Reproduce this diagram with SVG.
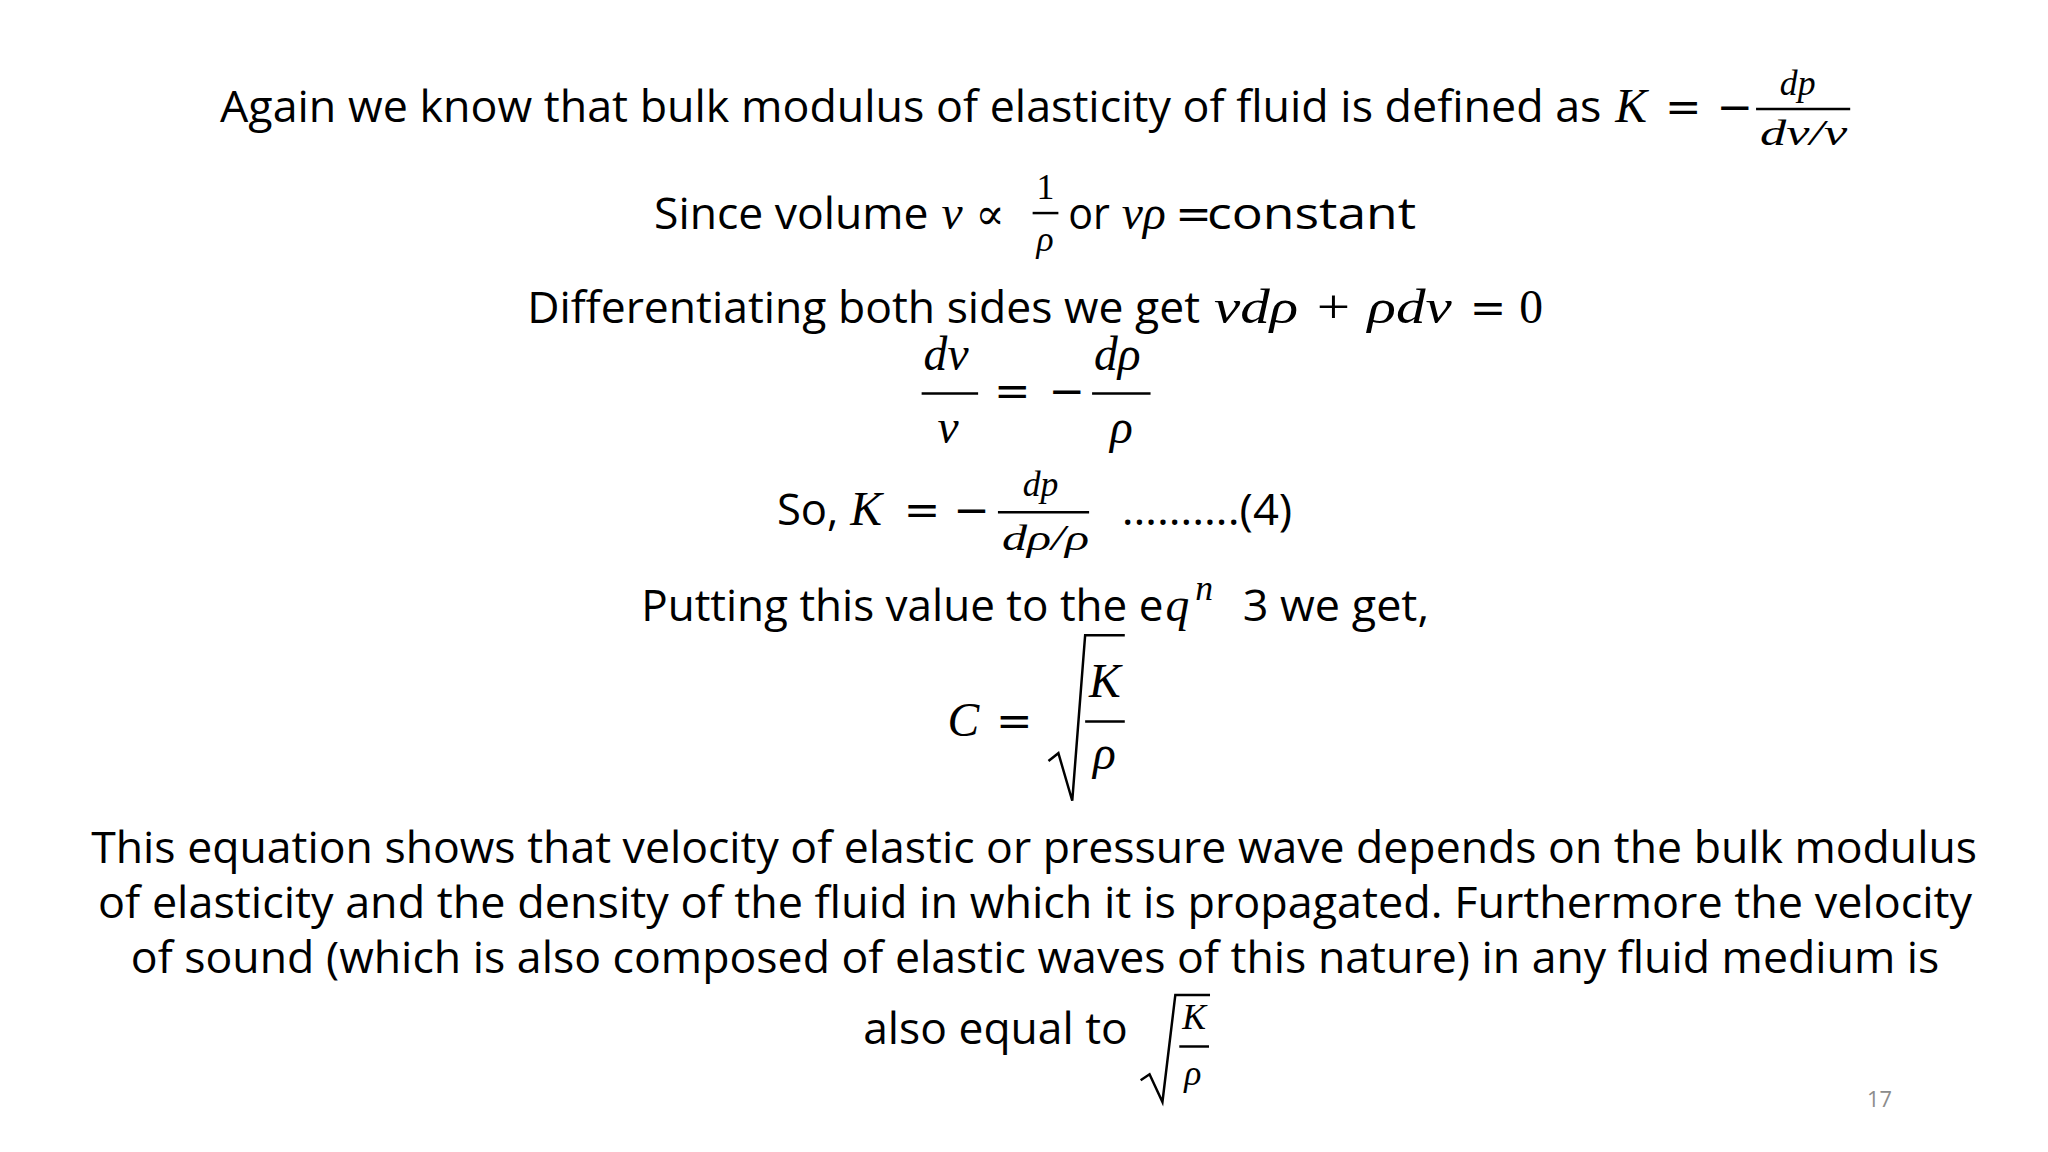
<svg xmlns="http://www.w3.org/2000/svg" width="2048" height="1152" viewBox="0 0 2048 1152">
<style>
.t{font-family:"Open Sans","Noto Sans",sans-serif;font-size:44px;fill:#000}
.m{font-family:"Liberation Serif","DejaVu Serif",serif;font-style:italic;font-size:48px;fill:#000}
.s{font-size:36px}
.n{font-style:normal}
.o{font-family:"DejaVu Serif",serif;font-style:normal;font-size:44px}
.bar{stroke:#000;stroke-width:2.5}
.rad{fill:none;stroke:#000;stroke-width:2.5}
</style>
<rect width="2048" height="1152" fill="#fff"/>
<g transform="scale(0.991)">
<g id="line1">
<text class="t" x="222" y="123" textLength="1394" lengthAdjust="spacingAndGlyphs">Again we know that bulk modulus of elasticity of fluid is defined as</text>
<text class="m" x="1630" y="123">K</text>
<text class="m o" x="1680" y="123">=</text>
<text class="m o" x="1732" y="123">−</text>
<text class="m s" x="1796" y="96">dp</text>
<line class="bar" x1="1772" y1="110" x2="1867" y2="110"/>
<text class="m s" x="1776" y="146" textLength="88" lengthAdjust="spacingAndGlyphs">dv/v</text>
</g>
<g id="line2">
<text class="t" x="660" y="231" textLength="277" lengthAdjust="spacingAndGlyphs">Since volume</text>
<text class="m" x="950" y="231">v</text>
<text class="m o" x="984" y="231">∝</text>
<text class="m s n" x="1046" y="201">1</text>
<line class="bar" x1="1042" y1="215" x2="1068" y2="215"/>
<text class="m s" x="1046" y="253">ρ</text>
<text class="t" x="1078" y="231" textLength="42" lengthAdjust="spacingAndGlyphs">or</text>
<text class="m" x="1132" y="231">vρ</text>
<text class="m o" x="1186" y="231">=</text>
<text class="t" x="1218" y="231" textLength="211" lengthAdjust="spacingAndGlyphs">constant</text>
</g>
<g id="line3">
<text class="t" x="532" y="326" textLength="679" lengthAdjust="spacingAndGlyphs">Differentiating both sides we get</text>
<text class="m" x="1225" y="326" textLength="240" lengthAdjust="spacingAndGlyphs">vdρ + ρdv</text>
<text class="m o" x="1483" y="326">=</text>
<text class="m n" x="1533" y="326">0</text>
</g>
<g id="line4">
<text class="m" x="932" y="373">dv</text>
<line class="bar" x1="930" y1="397" x2="987" y2="397"/>
<text class="m" x="946" y="447">v</text>
<text class="m o" x="1003" y="410">=</text>
<text class="m o" x="1058" y="410">−</text>
<text class="m" x="1104" y="373">dρ</text>
<line class="bar" x1="1102" y1="397" x2="1161" y2="397"/>
<text class="m" x="1120" y="447">ρ</text>
</g>
<g id="line5">
<text class="t" x="784" y="530">So,</text>
<text class="m" x="858" y="530">K</text>
<text class="m o" x="912" y="530">=</text>
<text class="m o" x="962" y="530">−</text>
<text class="m s" x="1032" y="501">dp</text>
<line class="bar" x1="1007" y1="517" x2="1099" y2="517"/>
<text class="m s" x="1011" y="555" textLength="88" lengthAdjust="spacingAndGlyphs">dρ/ρ</text>
<text class="t" x="1132" y="530" textLength="172" lengthAdjust="spacingAndGlyphs">……….(4)</text>
</g>
<g id="line6">
<text class="t" x="647" y="627" textLength="527" lengthAdjust="spacingAndGlyphs">Putting this value to the e</text>
<text class="m" x="1176" y="627">q</text>
<text class="m s" x="1206" y="605">n</text>
<text class="t" x="1254" y="627" textLength="188" lengthAdjust="spacingAndGlyphs">3 we get,</text>
</g>
<g id="line7">
<text class="m" x="956" y="743">C</text>
<text class="m o" x="1005" y="743">=</text>
<polyline class="rad" points="1058,768 1068,760 1082,808 1095,641 1135,641"/>
<text class="m" x="1099" y="703">K</text>
<line class="bar" x1="1095" y1="728" x2="1135" y2="728"/>
<text class="m" x="1103" y="776">ρ</text>
</g>
<g id="paragraph">
<text class="t" x="92" y="871" textLength="1903" lengthAdjust="spacingAndGlyphs">This equation shows that velocity of elastic or pressure wave depends on the bulk modulus</text>
<text class="t" x="99" y="926" textLength="1891" lengthAdjust="spacingAndGlyphs">of elasticity and the density of the fluid in which it is propagated. Furthermore the velocity</text>
<text class="t" x="132" y="982" textLength="1825" lengthAdjust="spacingAndGlyphs">of sound (which is also composed of elastic waves of this nature) in any fluid medium is</text>
<text class="t" x="871" y="1053" textLength="267" lengthAdjust="spacingAndGlyphs">also equal to</text>
<polyline class="rad" points="1151,1090 1160,1084 1173,1112 1186,1004 1221,1004"/>
<text class="m s" x="1193" y="1038">K</text>
<line class="bar" x1="1190" y1="1056" x2="1220" y2="1056"/>
<text class="m s" x="1195" y="1095">ρ</text>
</g>
<text x="1884" y="1117" style="font-family:'Open Sans',sans-serif;font-size:22px;fill:#8c8c8c">17</text>
</g>
</svg>
